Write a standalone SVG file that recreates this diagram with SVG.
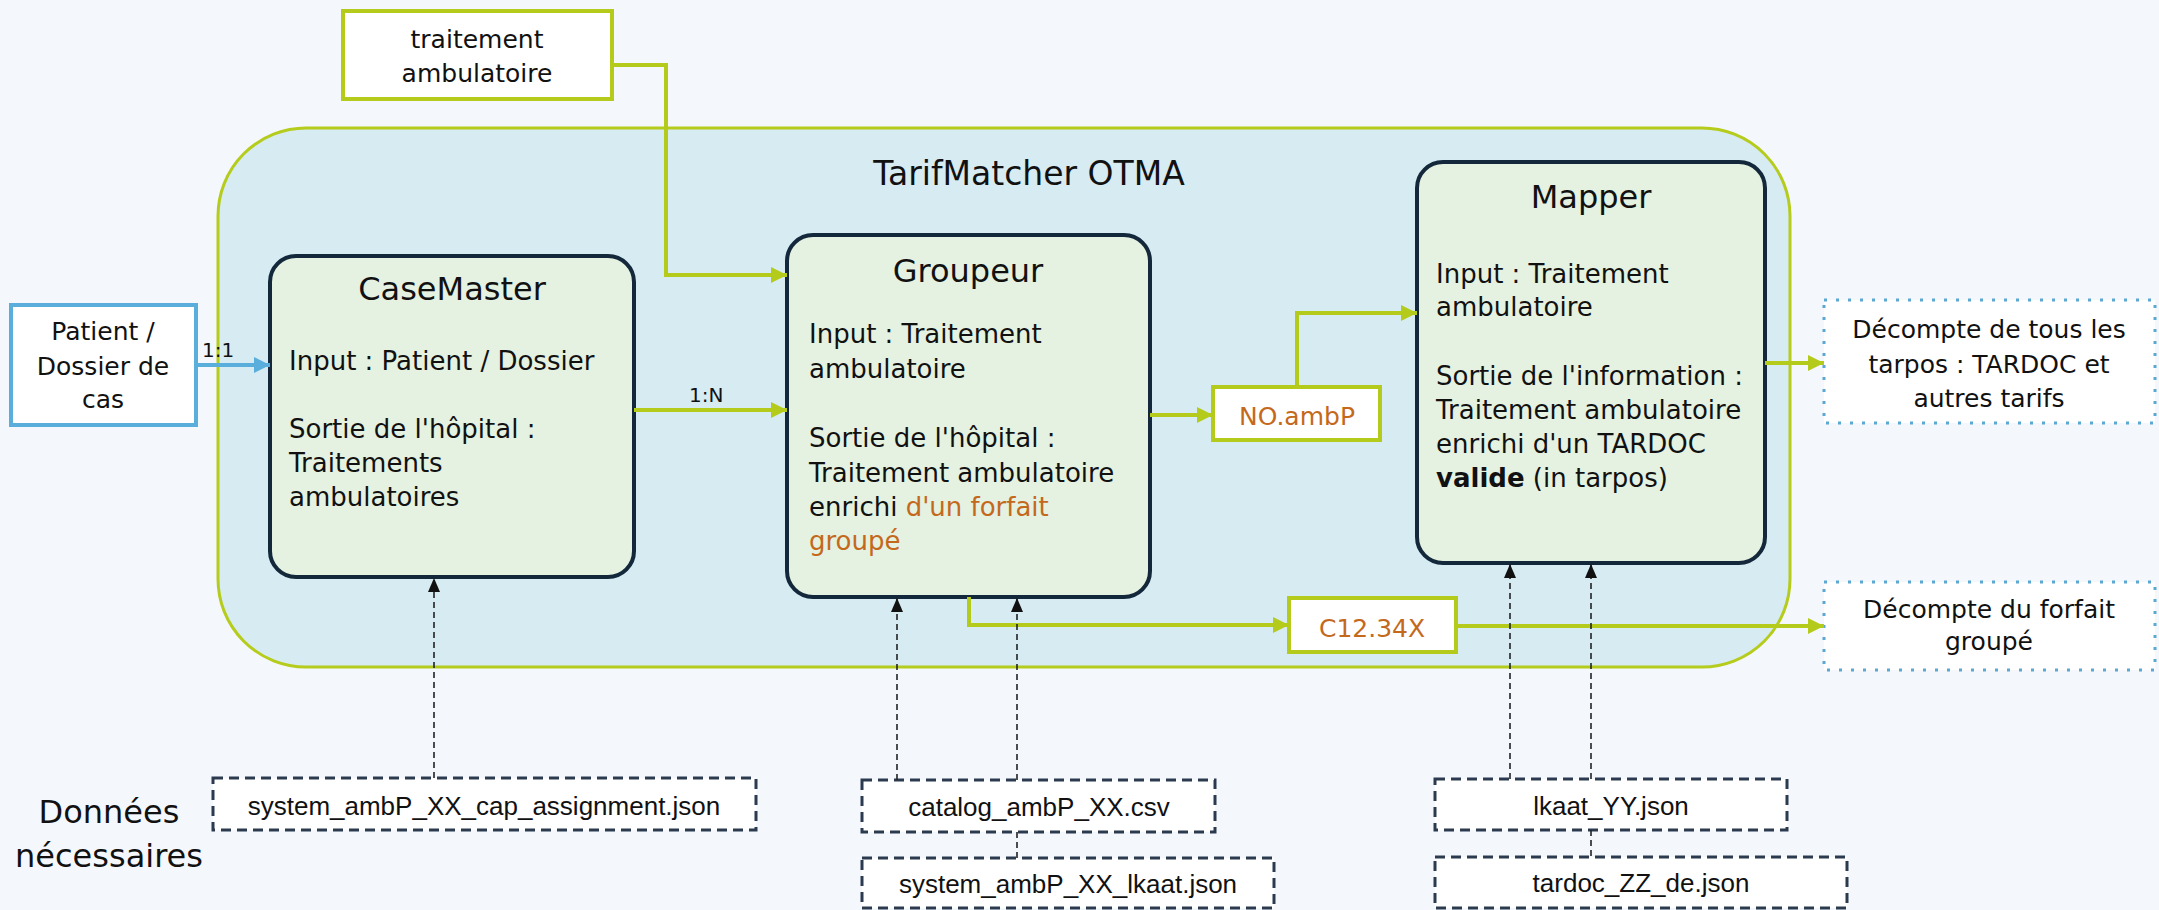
<svg xmlns="http://www.w3.org/2000/svg" width="2159" height="910" viewBox="0 0 2159 910">
<defs>
<style>
.t{font-family:"DejaVu Sans",sans-serif;fill:#111;}
.f{font-family:"Liberation Sans",Arial,sans-serif;fill:#111;font-size:26px;text-anchor:middle;}
.b{font-size:26px;}
.h{font-size:32px;text-anchor:middle;}
.c{text-anchor:middle;font-size:25px;}
.o{fill:#c4691c;}
.node{fill:#e5f1e1;stroke:#13283a;stroke-width:4;}
.gbox{fill:#fff;stroke:#b5cb1b;stroke-width:4;}
.dot{fill:#fff;stroke:#5ba8d3;stroke-width:3;stroke-dasharray:3 9;}
.file{fill:#fff;stroke:#2b3a4f;stroke-width:3;stroke-dasharray:10 6;}
.g{fill:none;stroke:#b5cb1b;stroke-width:4;marker-end:url(#ag);}
.gl{fill:none;stroke:#b5cb1b;stroke-width:4;}
.d{fill:none;stroke:#222;stroke-width:1.6;stroke-dasharray:6 4;}
.da{marker-end:url(#ak);}
</style>
<marker id="ag" markerUnits="userSpaceOnUse" markerWidth="18" markerHeight="18" refX="16" refY="8" orient="auto"><path d="M0,0 L16,8 L0,16 z" fill="#b5cb1b"/></marker>
<marker id="ab" markerUnits="userSpaceOnUse" markerWidth="18" markerHeight="18" refX="16" refY="8" orient="auto"><path d="M0,0 L16,8 L0,16 z" fill="#5aaedb"/></marker>
<marker id="ak" markerUnits="userSpaceOnUse" markerWidth="16" markerHeight="14" refX="14" refY="6" orient="auto"><path d="M0,0 L14,6 L0,12 z" fill="#111"/></marker>
</defs>
<rect x="0" y="0" width="2159" height="910" fill="#f4f8fc"/>

<g id="container">
<rect x="218" y="128" width="1572" height="539" rx="88" ry="88" fill="#d7ebf3" stroke="#b6cc1c" stroke-width="3"/>
<text class="t" x="1029" y="185" font-size="33" text-anchor="middle">TarifMatcher OTMA</text>
</g>

<g id="traitement">
<rect class="gbox" x="343" y="11" width="269" height="88"/>
<text class="t c" x="477" y="48">traitement</text>
<text class="t c" x="477" y="82">ambulatoire</text>
</g>

<g id="patient">
<rect x="11" y="305" width="185" height="120" fill="#fff" stroke="#5aaedb" stroke-width="4"/>
<text class="t c" x="103" y="340">Patient /</text>
<text class="t c" x="103" y="375">Dossier de</text>
<text class="t c" x="103" y="408">cas</text>
</g>

<g id="casemaster">
<rect class="node" x="270" y="256" width="364" height="321" rx="26"/>
<text class="t h" x="452" y="300">CaseMaster</text>
<text class="t b" x="289" y="370">Input : Patient / Dossier</text>
<text class="t b" x="289" y="438">Sortie de l'hôpital :</text>
<text class="t b" x="289" y="472">Traitements</text>
<text class="t b" x="289" y="506">ambulatoires</text>
</g>

<g id="groupeur">
<rect class="node" x="787" y="235" width="363" height="362" rx="26"/>
<text class="t h" x="968" y="282">Groupeur</text>
<text class="t b" x="809" y="343">Input : Traitement</text>
<text class="t b" x="809" y="378">ambulatoire</text>
<text class="t b" x="809" y="447">Sortie de l'hôpital :</text>
<text class="t b" x="809" y="482">Traitement ambulatoire</text>
<text class="t b" x="809" y="516">enrichi <tspan class="o">d'un forfait</tspan></text>
<text class="t b o" x="809" y="550">groupé</text>
</g>

<g id="mapper">
<rect class="node" x="1417" y="162" width="348" height="401" rx="26"/>
<text class="t h" x="1591" y="208">Mapper</text>
<text class="t b" x="1436" y="283">Input : Traitement</text>
<text class="t b" x="1436" y="316">ambulatoire</text>
<text class="t b" x="1436" y="385">Sortie de l'information :</text>
<text class="t b" x="1436" y="419">Traitement ambulatoire</text>
<text class="t b" x="1436" y="453">enrichi d'un TARDOC</text>
<text class="t b" x="1436" y="487"><tspan font-weight="bold">valide</tspan> (in tarpos)</text>
</g>

<g id="noambp">
<rect class="gbox" x="1213" y="387" width="167" height="53"/>
<text class="t c o" x="1297" y="425">NO.ambP</text>
</g>

<g id="c1234x">
<rect class="gbox" x="1289" y="598" width="167" height="54"/>
<text class="t c o" x="1372" y="637">C12.34X</text>
</g>

<g id="decompte-tous">
<rect class="dot" x="1824" y="300" width="331" height="123"/>
<text class="t c" x="1989" y="338">Décompte de tous les</text>
<text class="t c" x="1989" y="373">tarpos : TARDOC et</text>
<text class="t c" x="1989" y="407">autres tarifs</text>
</g>

<g id="decompte-forfait">
<rect class="dot" x="1824" y="582" width="331" height="88"/>
<text class="t c" x="1989" y="618">Décompte du forfait</text>
<text class="t c" x="1989" y="650">groupé</text>
</g>

<g id="donnees">
<text class="t" x="109" y="823" font-size="32" text-anchor="middle">Données</text>
<text class="t" x="109" y="867" font-size="32" text-anchor="middle">nécessaires</text>
</g>

<g id="file-cap">
<rect class="file" x="213" y="778" width="543" height="52"/>
<text class="f" x="484" y="815">system_ambP_XX_cap_assignment.json</text>
</g>
<g id="file-catalog">
<rect class="file" x="862" y="780" width="353" height="52"/>
<text class="f" x="1039" y="816">catalog_ambP_XX.csv</text>
</g>
<g id="file-lkaat-sys">
<rect class="file" x="862" y="858" width="412" height="50"/>
<text class="f" x="1068" y="893">system_ambP_XX_lkaat.json</text>
</g>
<g id="file-lkaat">
<rect class="file" x="1435" y="779" width="352" height="51"/>
<text class="f" x="1611" y="815">lkaat_YY.json</text>
</g>
<g id="file-tardoc">
<rect class="file" x="1435" y="857" width="412" height="51"/>
<text class="f" x="1641" y="892">tardoc_ZZ_de.json</text>
</g>

<g id="connectors">
<path d="M196,365 H270" fill="none" stroke="#5aaedb" stroke-width="4" marker-end="url(#ab)"/>
<text class="t" x="202" y="357" font-size="20">1:1</text>
<path class="g" d="M612,65 H666 V275 H787"/>
<path class="g" d="M634,410 H787"/>
<text class="t" x="689" y="402" font-size="20">1:N</text>
<path class="g" d="M1150,415 H1213"/>
<path class="g" d="M1297,387 V313 H1417"/>
<path class="g" d="M969,597 V625 H1289"/>
<path class="g" d="M1456,626 H1824"/>
<path class="g" d="M1765,363 H1824"/>
<path class="d da" d="M434,778 V578"/>
<path class="d da" d="M897,780 V598"/>
<path class="d da" d="M1017,780 V598"/>
<path class="d" d="M1017,832 V858"/>
<path class="d da" d="M1510,779 V564"/>
<path class="d da" d="M1591,779 V564"/>
<path class="d" d="M1591,830 V857"/>
</g>
</svg>
